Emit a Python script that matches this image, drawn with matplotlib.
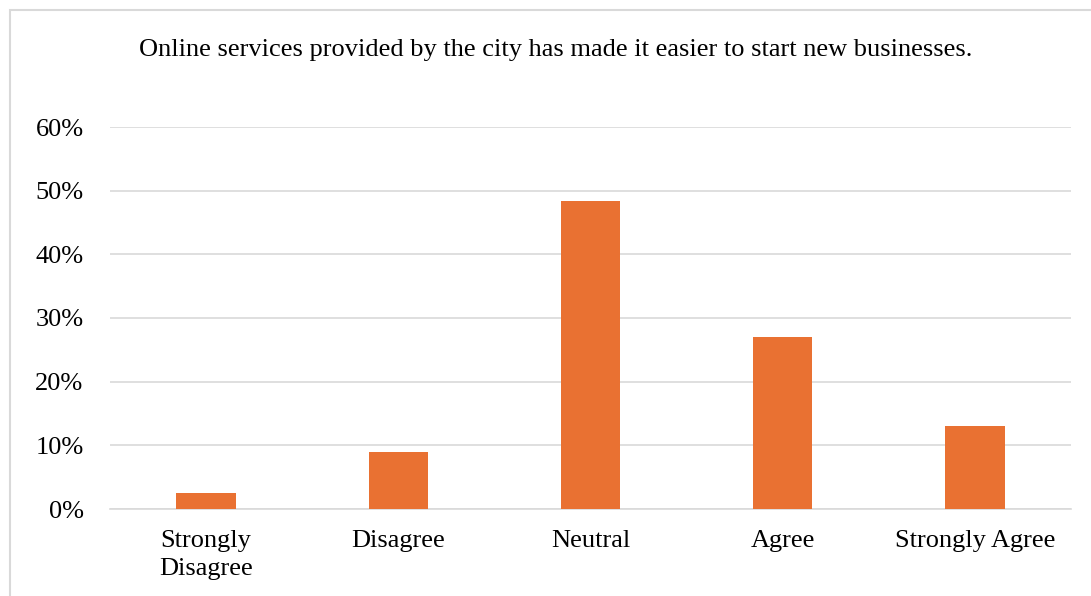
import matplotlib.pyplot as plt
from matplotlib.patches import Rectangle
from matplotlib.ticker import FuncFormatter

categories = ["Strongly\nDisagree", "Disagree", "Neutral", "Agree", "Strongly Agree"]
shares = [2.5, 9.0, 48.3, 27.0, 13.1]
yticks = [0, 10, 20, 30, 40, 50, 60]
title = "Online services provided by the city has made it easier to start new businesses."

plt.rcParams['font.family'] = ['Liberation Serif', 'DejaVu Serif']

W, H = 1091, 596
fig = plt.figure(figsize=(W / 100, H / 100), dpi=100)

# outer chart frame (cut off at right and bottom)
fig.patches.append(Rectangle((10 / W, -0.1), 1.2, 1 - 10 / H + 0.1,
                             transform=fig.transFigure, fill=False,
                             edgecolor='#d9d9d9', linewidth=1.5))

ax = fig.add_axes([110 / W, 1 - 509 / H, (1071 - 110) / W, (509 - 127) / H])
x = range(len(categories))
ax.bar(x, shares, width=0.31, color='#e97132', zorder=3)

ax.set_xlim(-0.5, len(categories) - 0.5)
ax.set_ylim(0, 60)
ax.set_yticks(yticks)
ax.yaxis.set_major_formatter(FuncFormatter(lambda v, p: f"{v:.0f}%"))
ax.set_xticks(list(x))
ax.set_xticklabels(categories, fontsize=19, linespacing=1.35)
ax.tick_params(axis='y', labelsize=19, length=0, pad=19)
ax.tick_params(axis='x', length=0, pad=15)

ax.grid(axis='y', color='#d9d9d9', linewidth=1.2, zorder=0)
for s in ['top', 'right', 'left']:
    ax.spines[s].set_visible(False)
ax.spines['bottom'].set_color('#d9d9d9')
ax.spines['bottom'].set_linewidth(1.2)

fig.text(556 / W, 1 - 50 / H, title, ha='center', va='center', fontsize=19)

fig.savefig('out.png', dpi=100, facecolor='white')
